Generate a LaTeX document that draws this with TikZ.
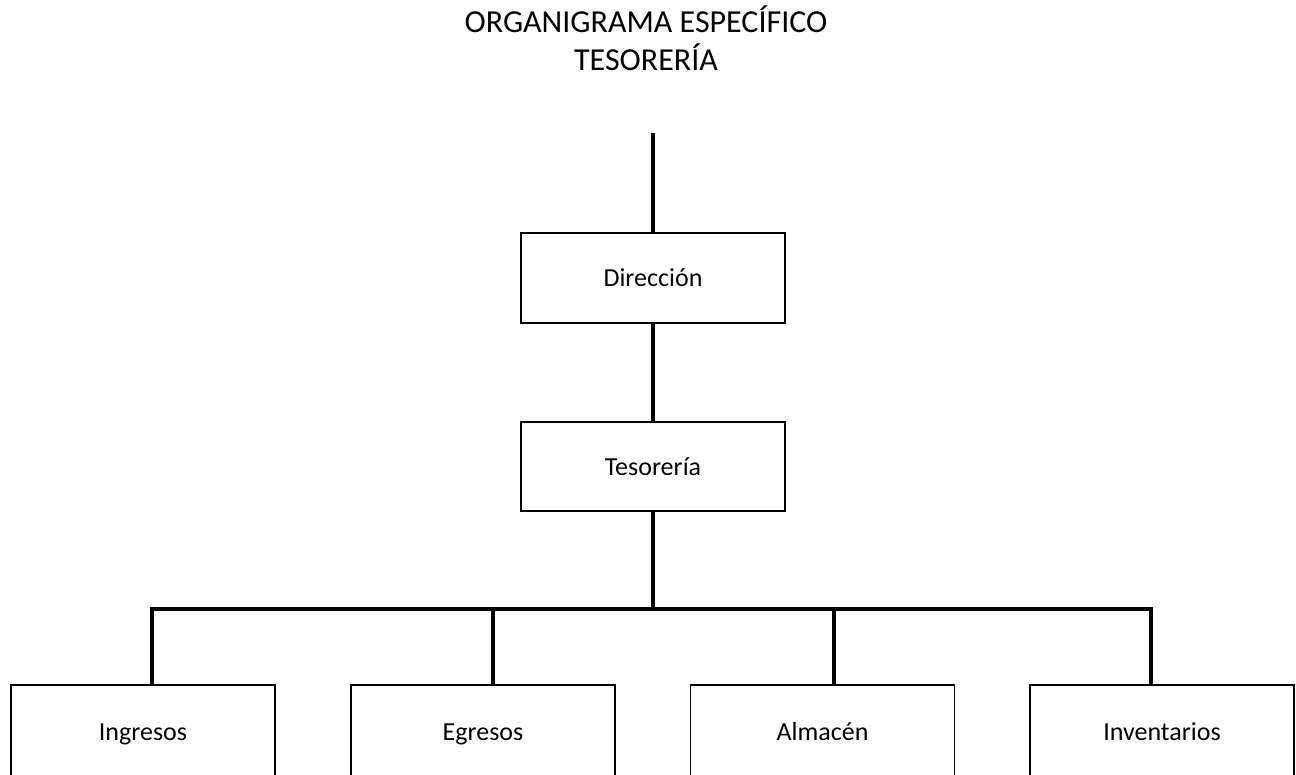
\documentclass[tikz,border=0pt]{standalone}
\usepackage{fontspec}
\setmainfont{Carlito}
\begin{document}
\begin{tikzpicture}[x=1pt,y=-1pt,
  box/.style={draw=black,line width=1.6pt,fill=white,minimum width=264pt,inner sep=0pt,font=\fontsize{26}{31}\selectfont},
  lbl/.style={anchor=base,inner sep=0pt,font=\fontsize{26}{31}\selectfont},
  conn/.style={draw=black,line width=4pt},
  ttl/.style={anchor=base,inner sep=0pt,font=\fontsize{32}{38}\selectfont}]
\clip (0,0) rectangle (1296,774);
\fill[white] (0,0) rectangle (1296,774);
\node[ttl] (t1) at (646,32) {ORGANIGRAMA ESPECÍFICO};
\node[ttl] (t2) at (646,70) {TESORERÍA};
% boxes
\node[box,minimum height=90pt] (dir) at (653,278) {Dirección};
\node[box,minimum height=89pt] (tes) at (653,466.5) {Tesorería};
\node[box,minimum height=110pt] (ing) at (143,740) {};
\node[box,minimum height=110pt] (egr) at (483,740) {};
\node[box,minimum height=110pt] (alm) at (822.5,740) {};
\node[box,minimum height=110pt] (inv) at (1162,740) {};
\node[lbl] (ingt) at (143,740) {Ingresos};
\node[lbl] (egrt) at (483,740) {Egresos};
\node[lbl] (almt) at (822.5,740) {Almacén};
\node[lbl] (invt) at (1162,740) {Inventarios};
% connector points
\coordinate (top) at (653,133);
\coordinate (bar) at (653,609);
\coordinate (ingc) at (152,685);
\coordinate (egrc) at (493,685);
\coordinate (almc) at (834,685);
\coordinate (invc) at (1151,685);
% connectors
\draw[conn] (top) -- (dir.north);
\draw[conn] (dir.south) -- (tes.north);
\draw[conn] (tes.south) -- (bar);
\draw[conn] (ingc) -- (ingc |- bar) -- (invc |- bar) -- (invc);
\draw[conn] (egrc |- bar) -- (egrc);
\draw[conn] (almc |- bar) -- (almc);
\end{tikzpicture}
\end{document}
